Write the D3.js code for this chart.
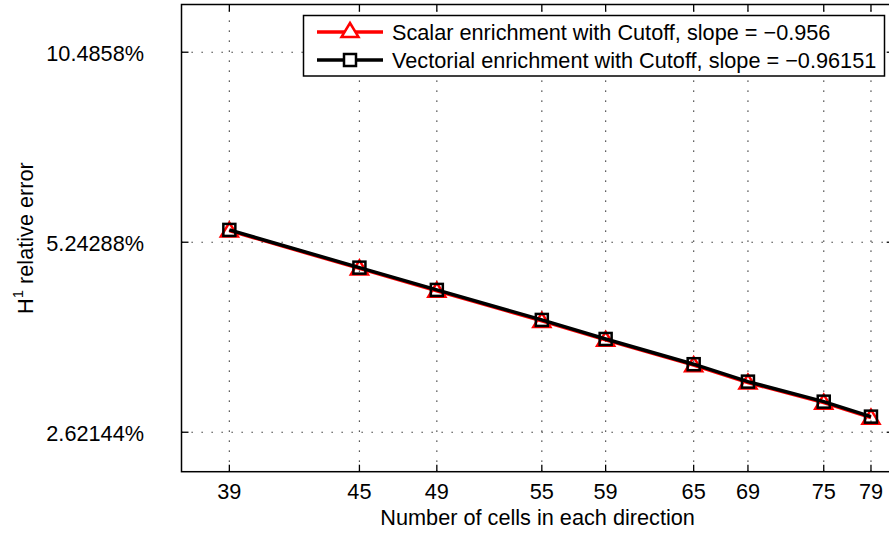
<!DOCTYPE html>
<html>
<head>
<meta charset="utf-8">
<script src="https://cdn.jsdelivr.net/npm/d3@7"></script>
<style>
	body { margin: 0; background: #fff; }
	text { font-family: "Liberation Sans", Arial, Helvetica, sans-serif; fill: #000; }
</style>
</head>
<body>
<div id="chart"></div>
<script>
const cells = [39, 45, 49, 55, 59, 65, 69, 75, 79]
// H1 relative error in %
const scalarErr = [5.47, 4.765, 4.392, 3.935, 3.672, 3.348, 3.142, 2.92, 2.765]
const vectorErr = [5.484, 4.779, 4.406, 3.949, 3.684, 3.36, 3.153, 2.931, 2.775]
const yTicks = [2.62144, 5.24288, 10.4858]
const yTickLabels = ["2.62144%", "5.24288%", "10.4858%"]
const legendLabels = ["Scalar enrichment with Cutoff, slope = \u22120.956", "Vectorial enrichment with Cutoff, slope = \u22120.96151"]

const init = () => {
	const svg = d3.select("#chart").append("svg").attr("width", 889).attr("height", 533)

	const left = 181.5, right = 893.7, top = 4.5, bottom = 471.7
	const fs = 21.7
	const xs = d3.scaleLog().domain([37, 81]).range([left, right])
	const ys = d3.scaleLog().domain([2.27, 12.48]).range([bottom, top])

	// grid, dotted
	const grid = svg.append("g").attr("stroke", "#222").attr("stroke-width", 1.2).attr("stroke-dasharray", "1.3,8.7")
	grid.selectAll(".gx").data(cells).join("line")
		.attr("x1", d => xs(d)).attr("x2", d => xs(d)).attr("y1", bottom).attr("y2", top)
	grid.selectAll(".gy").data(yTicks).join("line")
		.attr("y1", d => ys(d)).attr("y2", d => ys(d)).attr("x1", left).attr("x2", right)

	// inner ticks on all four sides
	const tickLen = 7
	const ticks = svg.append("g").attr("stroke", "#000").attr("stroke-width", 1.3)
	cells.forEach(c => {
		ticks.append("line").attr("x1", xs(c)).attr("x2", xs(c)).attr("y1", bottom).attr("y2", bottom - tickLen)
		ticks.append("line").attr("x1", xs(c)).attr("x2", xs(c)).attr("y1", top).attr("y2", top + tickLen)
	})
	yTicks.forEach(t => {
		ticks.append("line").attr("x1", left).attr("x2", left + tickLen).attr("y1", ys(t)).attr("y2", ys(t))
		ticks.append("line").attr("x1", right).attr("x2", right - tickLen).attr("y1", ys(t)).attr("y2", ys(t))
	})

	// tick labels
	svg.append("g").selectAll("text").data(cells).join("text")
		.attr("x", d => xs(d)).attr("y", 499)
		.attr("text-anchor", "middle").attr("font-size", fs)
		.text(d => d)
	svg.append("g").selectAll("text").data(yTicks).join("text")
		.attr("x", 144).attr("y", d => ys(d) + 9)
		.attr("text-anchor", "end").attr("font-size", fs)
		.text((d, i) => yTickLabels[i])

	// axis labels
	svg.append("text").attr("x", (left + right) / 2).attr("y", 525)
		.attr("text-anchor", "middle").attr("font-size", fs)
		.text("Number of cells in each direction")
	const yl = svg.append("text").attr("transform", `translate(33,${(top + bottom) / 2}) rotate(-90)`)
		.attr("text-anchor", "middle").attr("font-size", fs)
	yl.append("tspan").text("H")
	yl.append("tspan").attr("dy", -10).attr("font-size", 15).text("1")
	yl.append("tspan").attr("dy", 10).text(" relative error")

	const line = d3.line().x((d, i) => xs(cells[i])).y(d => ys(d))

	const triangle = (g, x, y) => g.append("path")
		.attr("d", `M${x},${y - 8}L${x + 8.5},${y + 6}L${x - 8.5},${y + 6}Z`)
		.attr("fill", "none").attr("stroke", "#ff0000").attr("stroke-width", 2.5)
	const square = (g, x, y) => g.append("rect")
		.attr("x", x - 6).attr("y", y - 6).attr("width", 12).attr("height", 12)
		.attr("fill", "none").attr("stroke", "#000").attr("stroke-width", 2.5)

	// scalar series (red)
	const red = svg.append("g")
	red.append("path").datum(scalarErr).attr("d", line)
		.attr("fill", "none").attr("stroke", "#ff0000").attr("stroke-width", 3.5)
	scalarErr.forEach((v, i) => triangle(red, xs(cells[i]), ys(v)))

	// vectorial series (black)
	const blk = svg.append("g")
	blk.append("path").datum(vectorErr).attr("d", line)
		.attr("fill", "none").attr("stroke", "#000").attr("stroke-width", 3.5)
	vectorErr.forEach((v, i) => square(blk, xs(cells[i]), ys(v)))

	// axes box
	svg.append("rect").attr("x", left).attr("y", top).attr("width", right - left).attr("height", bottom - top)
		.attr("fill", "none").attr("stroke", "#000").attr("stroke-width", 1.5)

	// legend
	const lg = svg.append("g")
	lg.append("rect").attr("x", 303.5).attr("y", 15.5).attr("width", 581).attr("height", 60.5)
		.attr("fill", "#fff").attr("stroke", "#000").attr("stroke-width", 1.5)
	const rows = [32, 60]
	rows.forEach((ry, i) => {
		lg.append("line").attr("x1", 317).attr("x2", 383).attr("y1", ry).attr("y2", ry)
			.attr("stroke", i === 0 ? "#ff0000" : "#000").attr("stroke-width", 3.5)
		if (i === 0) triangle(lg, 350, ry - 1).attr("fill", "#fff")
		else square(lg, 350, ry).attr("fill", "#fff")
		lg.append("text").attr("x", 392).attr("y", ry + 8).attr("font-size", fs).text(legendLabels[i])
	})
}

init()
</script>
</body>
</html>
